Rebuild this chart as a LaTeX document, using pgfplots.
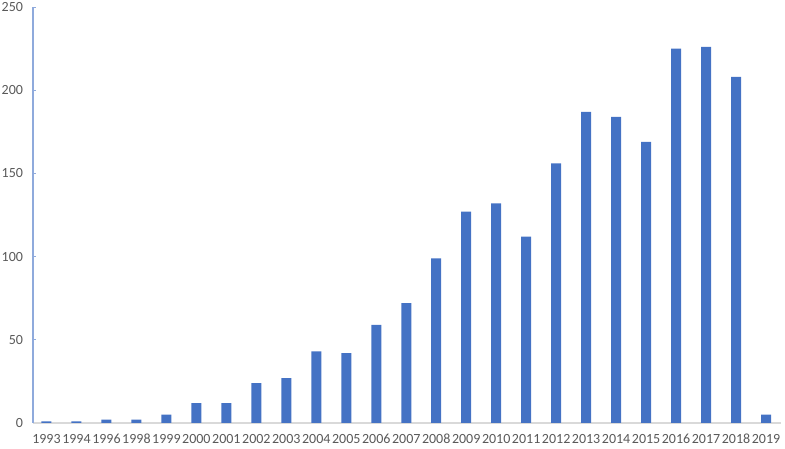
\documentclass[border=0pt]{standalone}
\usepackage{fontspec}
\setmainfont{Carlito}
\usepackage{pgfplots}
\pgfplotsset{compat=1.18}
\definecolor{barblue}{RGB}{68,114,196}
\definecolor{yaxblue}{RGB}{143,170,220}
\definecolor{xaxgray}{RGB}{217,217,217}
\definecolor{labgray}{RGB}{89,89,89}
\begin{document}
\begin{tikzpicture}[x=0.75pt,y=0.75pt]
\begin{axis}[
  at={(0,0)}, anchor=south west,
  scale only axis,
  width=561pt, height=312pt,
  ymin=0, ymax=250,
  ytick={0,50,100,150,200,250},
  xmin=-0.45, xmax=24.5,
  xtick=data,
  xticklabels={1993,1994,1996,1998,1999,2000,2001,2002,2003,2004,2005,2006,2007,2008,2009,2010,2011,2012,2013,2014,2015,2016,2017,2018,2019},
  axis x line*=bottom,
  axis y line*=left,
  x axis line style={draw=xaxgray, line width=0.8pt},
  y axis line style={draw=yaxblue, line width=0.8pt},
  xtick style={draw=none},
  ytick style={draw=yaxblue, line width=0.6pt},
  major tick length=2.5pt,
  tick label style={font=\fontsize{10.5}{12}\selectfont, text=labgray},
  xticklabel style={yshift=-2.5pt},
  yticklabel style={xshift=-4pt},
  /pgf/number format/assume math mode=true,
  ybar, bar width=7.5pt,
]
\addplot[draw=none, fill=barblue] coordinates {
  (0,1) (1,1) (2,2) (3,2) (4,5) (5,12) (6,12) (7,24) (8,27) (9,43)
  (10,42) (11,59) (12,72) (13,99) (14,127) (15,132) (16,112) (17,156)
  (18,187) (19,184) (20,169) (21,225) (22,226) (23,208) (24,5)
};
\end{axis}
\pgfresetboundingbox
\path[use as bounding box] (-33,-26) rectangle (752,423);
\end{tikzpicture}
\end{document}
